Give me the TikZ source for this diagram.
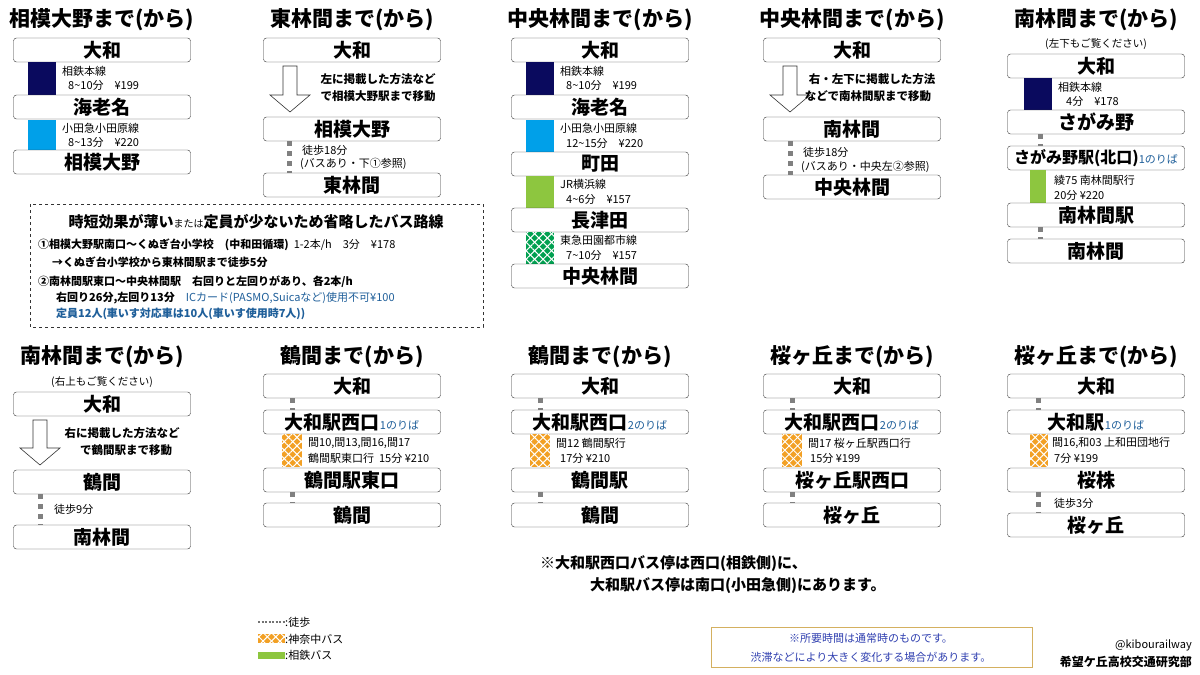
\documentclass[tikz,border=0pt]{standalone}
\usepackage{fontspec}
\setmainfont{Noto Sans CJK JP}
\usetikzlibrary{patterns.meta}
\definecolor{navy}{HTML}{0A0A5E}
\definecolor{odq}{HTML}{00A0E9}
\definecolor{jrg}{HTML}{8DC63F}
\definecolor{tkg}{HTML}{00A050}
\definecolor{kor}{HTML}{F2A024}
\definecolor{nblue}{HTML}{1F5F9A}
\definecolor{iblue}{HTML}{3040B0}
\definecolor{gold}{HTML}{D4B060}
\tikzset{
 stbox/.style={draw=black!80,rounded corners=3pt,minimum width=177pt,minimum height=24pt,inner sep=0pt,font=\fontsize{19}{20}\selectfont\bfseries,fill=white},
 ttl/.style={font=\fontsize{21}{24}\selectfont\bfseries,inner sep=0pt},
 sub/.style={font=\fontsize{10.5}{12}\selectfont,inner sep=0pt},
 sm/.style={font=\fontsize{11}{13}\selectfont,inner sep=0pt,anchor=west},
 walk/.style={draw=black!50,line width=5pt,dash pattern=on 5pt off 5pt},
 harr/.style={draw=black!80,fill=white,line width=0.6pt},
}
\newcommand\tl{\textasciitilde}
\newcommand\stn[4]{\node[stbox] (#1) at (#2,#3) {#4};}
\newcommand\seg[5]{\fill[#5] (#1,#3) rectangle (#2,#4);}
\newcommand\hatch[5]{\fill[#5] (#1,#3) rectangle (#2,#4);
 \fill[pattern={Lines[angle=45,distance=6pt,line width=1pt]},pattern color=white] (#1,#3) rectangle (#2,#4);
 \fill[pattern={Lines[angle=-45,distance=6pt,line width=1pt]},pattern color=white] (#1,#3) rectangle (#2,#4);}
\newcommand\harrow[4]{\draw[harr] ({#1-7},#2) -- ({#1+7},#2) -- ({#1+7},#3) -- ({#1+20},#3) -- (#1,#4) -- ({#1-20},#3) -- ({#1-7},#3) -- cycle;}
\newcommand\nori[1]{\textcolor{nblue}{\fontsize{11}{12}\selectfont\mdseries #1}}
\begin{document}
\begin{tikzpicture}[x=1pt,y=-1pt]
\useasboundingbox[fill=white] (0,0) rectangle (1200,675);
% ---------- column 1 top
\node[ttl] (t1) at (102,20) {相模大野まで(から)};
\stn{a1}{102}{50}{大和}
\seg{28}{56}{62}{95}{navy}
\node[sm] (a1l1) at (62,71) {相鉄本線};
\node[sm] (a1l2) at (68,85) {8\tl10分　¥199};
\stn{a2}{102}{107}{海老名}
\seg{28}{56}{120}{150}{odq}
\node[sm] (a2l1) at (62,128) {小田急小田原線};
\node[sm] (a2l2) at (68,142) {8\tl13分　¥220};
\stn{a3}{102}{162}{相模大野}
% ---------- column 2 top
\node[ttl] (t2) at (352,20) {東林間まで(から)};
\stn{b1}{352}{50}{大和}
\harrow{290}{66}{95}{112}
\node[sub,font=\fontsize{11.5}{13}\selectfont\bfseries] (b1l1) at (378,79) {左に掲載した方法など};
\node[sub,font=\fontsize{11.5}{13}\selectfont\bfseries] (b1l2) at (378,96) {で相模大野駅まで移動};
\stn{b2}{352}{129}{相模大野}
\stn{b3}{352}{185}{東林間}
\draw[walk] ([xshift=-63pt]b2.south) -- ([xshift=-63pt]b3.north);
\node[sm] (b2l1) at (302,150) {徒歩18分};
\node[sm] (b2l2) at (300,164) {(バスあり・下①参照)};
% ---------- column 3 top
\node[ttl] (t3) at (600,20) {中央林間まで(から)};
\stn{c1}{600}{50}{大和}
\seg{526}{554}{62}{95}{navy}
\node[sm] (c1l1) at (560,71) {相鉄本線};
\node[sm] (c1l2) at (566,85) {8\tl10分　¥199};
\stn{c2}{600}{107}{海老名}
\seg{526}{554}{120}{152}{odq}
\node[sm] (c2l1) at (560,128) {小田急小田原線};
\node[sm] (c2l2) at (566,143) {12\tl15分　¥220};
\stn{c3}{600}{164}{町田}
\seg{526}{554}{176}{208}{jrg}
\node[sm] (c3l1) at (560,184) {JR横浜線};
\node[sm] (c3l2) at (566,199) {4\tl6分　¥157};
\stn{c4}{600}{220}{長津田}
\hatch{526}{554}{232}{264}{tkg}
\node[sm] (c4l1) at (560,240) {東急田園都市線};
\node[sm] (c4l2) at (566,255) {7\tl10分　¥157};
\stn{c5}{600}{276}{中央林間}
% ---------- column 4 top
\node[ttl] (t4) at (852,20) {中央林間まで(から)};
\stn{d1}{852}{50}{大和}
\harrow{790}{66}{95}{112}
\node[sub,font=\fontsize{11.5}{13}\selectfont\bfseries] (d1l1) at (872,79) {右・左下に掲載した方法};
\node[sub,font=\fontsize{11.5}{13}\selectfont\bfseries] (d1l2) at (868,96) {などで南林間駅まで移動};
\stn{d2}{852}{129}{南林間}
\stn{d3}{852}{187}{中央林間}
\draw[walk] ([xshift=-62pt]d2.south) -- ([xshift=-62pt]d3.north);
\node[sm] (d2l1) at (803,152) {徒歩18分};
\node[sm] (d2l2) at (801,167) {(バスあり・中央左②参照)};
% ---------- column 5 top
\node[ttl] (t5) at (1096,20) {南林間まで(から)};
\node[sub] (t5s) at (1096,44) {(左下もご覧ください)};
\stn{e1}{1096}{66}{大和}
\seg{1024}{1052}{78}{110}{navy}
\node[sm] (e1l1) at (1058,87) {相鉄本線};
\node[sm] (e1l2) at (1066,101) {4分　¥178};
\stn{e2}{1096}{122}{さがみ野}
\stn{e3}{1096}{158}{\fontsize{16}{18}\selectfont さがみ野駅(北口)\nori{1のりば}}
\draw[walk] ([xshift=-56pt]e2.south) -- ([xshift=-56pt]e3.north);
\seg{1030}{1046}{170}{203}{jrg}
\node[sm] (e3l1) at (1054,180) {綾75 南林間駅行};
\node[sm] (e3l2) at (1054,195) {20分 ¥220};
\stn{e4}{1096}{215}{南林間駅}
\stn{e5}{1096}{251}{南林間}
\draw[walk] ([xshift=-56pt]e4.south) -- ([xshift=-56pt]e5.north);
% ---------- dashed box
\draw[dashed,black!80,line width=0.8pt] (30,204) rectangle (483,327);
\node[inner sep=0pt,font=\fontsize{15}{17}\selectfont\bfseries] (dh) at (256,222) {時短効果が薄い{\fontsize{10}{12}\selectfont\mdseries または}定員が少ないため省略したバス路線};
\node[sm,font=\fontsize{11}{13}\selectfont\bfseries] (dl1) at (38,245) {①相模大野駅南口～くぬぎ台小学校　(中和田循環)\ \ {\mdseries 1-2本/h　3分　¥178}};
\node[sm,font=\fontsize{11}{13}\selectfont\bfseries] (dl2) at (52,262) {→くぬぎ台小学校から東林間駅まで徒歩5分};
\node[sm,font=\fontsize{11}{13}\selectfont\bfseries] (dl3) at (38,282) {②南林間駅東口～中央林間駅　右回りと左回りがあり、各2本/h};
\node[sm,font=\fontsize{11}{13}\selectfont\bfseries] (dl4) at (56,298) {右回り26分,左回り13分　\textcolor{nblue}{\mdseries ICカード(PASMO,Suicaなど)使用不可¥100}};
\node[sm,font=\fontsize{11}{13}\selectfont\bfseries,text=nblue] (dl5) at (56,314) {定員12人(車いす対応車は10人(車いす使用時7人))};
% ---------- bottom column 1
\node[ttl] (u1) at (102,357) {南林間まで(から)};
\node[sub] (u1s) at (102,382) {(右上もご覧ください)};
\stn{f1}{102}{404}{大和}
\harrow{40}{420}{448}{465}
\node[sub,font=\fontsize{11.5}{13}\selectfont\bfseries] (f1l1) at (122,433) {右に掲載した方法など};
\node[sub,font=\fontsize{11.5}{13}\selectfont\bfseries] (f1l2) at (126,450) {で鶴間駅まで移動};
\stn{f2}{102}{482}{鶴間}
\stn{f3}{102}{537}{南林間}
\draw[walk] ([xshift=-62pt]f2.south) -- ([xshift=-62pt]f3.north);
\node[sm] (f2l1) at (54,509) {徒歩9分};
% ---------- bottom column 2
\node[ttl] (u2) at (352,357) {鶴間まで(から)};
\stn{g1}{352}{386}{大和}
\stn{g2}{352}{422}{大和駅西口\nori{1のりば}}
\draw[walk] ([xshift=-60pt]g1.south) -- ([xshift=-60pt]g2.north);
\hatch{282}{302}{434}{467}{kor}
\node[sm] (g2l1) at (308,443) {間10,間13,間16,間17};
\node[sm] (g2l2) at (308,458) {鶴間駅東口行\ \ 15分 ¥210};
\stn{g3}{352}{480}{鶴間駅東口}
\stn{g4}{352}{515}{鶴間}
\draw[walk] ([xshift=-60pt]g3.south) -- ([xshift=-60pt]g4.north);
% ---------- bottom column 3
\node[ttl] (u3) at (600,357) {鶴間まで(から)};
\stn{h1}{600}{386}{大和}
\stn{h2}{600}{422}{大和駅西口\nori{2のりば}}
\draw[walk] ([xshift=-60pt]h1.south) -- ([xshift=-60pt]h2.north);
\hatch{530}{550}{434}{467}{kor}
\node[sm] (h2l1) at (556,443) {間12 鶴間駅行};
\node[sm] (h2l2) at (560,458) {17分 ¥210};
\stn{h3}{600}{480}{鶴間駅}
\stn{h4}{600}{515}{鶴間}
\draw[walk] ([xshift=-60pt]h3.south) -- ([xshift=-60pt]h4.north);
% ---------- bottom column 4
\node[ttl] (u4) at (852,357) {桜ヶ丘まで(から)};
\stn{k1}{852}{386}{大和}
\stn{k2}{852}{422}{大和駅西口\nori{2のりば}}
\draw[walk] ([xshift=-60pt]k1.south) -- ([xshift=-60pt]k2.north);
\hatch{782}{802}{434}{467}{kor}
\node[sm] (k2l1) at (808,443) {間17 桜ヶ丘駅西口行};
\node[sm] (k2l2) at (810,458) {15分 ¥199};
\stn{k3}{852}{480}{桜ヶ丘駅西口}
\stn{k4}{852}{515}{桜ヶ丘}
\draw[walk] ([xshift=-60pt]k3.south) -- ([xshift=-60pt]k4.north);
% ---------- bottom column 5
\node[ttl] (u5) at (1096,357) {桜ヶ丘まで(から)};
\stn{m1}{1096}{386}{大和}
\stn{m2}{1096}{422}{大和駅\nori{1のりば}}
\draw[walk] ([xshift=-58pt]m1.south) -- ([xshift=-58pt]m2.north);
\hatch{1030}{1048}{434}{467}{kor}
\node[sm] (m2l1) at (1052,443) {間16,和03 上和田団地行};
\node[sm] (m2l2) at (1054,458) {7分 ¥199};
\stn{m3}{1096}{480}{桜株}
\stn{m4}{1096}{525}{桜ヶ丘}
\draw[walk] ([xshift=-58pt]m3.south) -- ([xshift=-58pt]m4.north);
\node[sm] (m3l1) at (1054,503) {徒歩3分};
% ---------- notes
\node[inner sep=0pt,anchor=west,font=\fontsize{15}{17}\selectfont\bfseries] (n1) at (540,564) {※大和駅西口バス停は西口(相鉄側)に、};
\node[inner sep=0pt,anchor=west,font=\fontsize{15}{17}\selectfont\bfseries] (n2) at (590,586) {大和駅バス停は南口(小田急側)にあります。};
% legend
\draw[black!55,line width=2pt,dash pattern=on 2pt off 1.5pt] (258,622) -- (285,622);
\node[sm] (lg1) at (285,622) {:徒歩};
\hatch{258}{285}{634}{643}{kor}
\node[sm] (lg2) at (285,639) {:神奈中バス};
\seg{258}{285}{652}{659}{jrg}
\node[sm] (lg3) at (285,655) {:相鉄バス};
% info box
\draw[gold,line width=1pt] (711,627) rectangle (1032,667);
\node[inner sep=0pt,text=iblue,font=\fontsize{11}{13}\selectfont] (ib1) at (871,638) {※所要時間は通常時のものです。};
\node[inner sep=0pt,text=iblue,font=\fontsize{11}{13}\selectfont] (ib2) at (871,657) {渋滞などにより大きく変化する場合があります。};
\node[inner sep=0pt,anchor=east,font=\fontsize{11}{13}\selectfont] (cr1) at (1192,645) {@kibourailway};
\node[inner sep=0pt,anchor=east,font=\fontsize{12}{14}\selectfont\bfseries] (cr2) at (1192,662) {希望ケ丘高校交通研究部};
\end{tikzpicture}
\end{document}
